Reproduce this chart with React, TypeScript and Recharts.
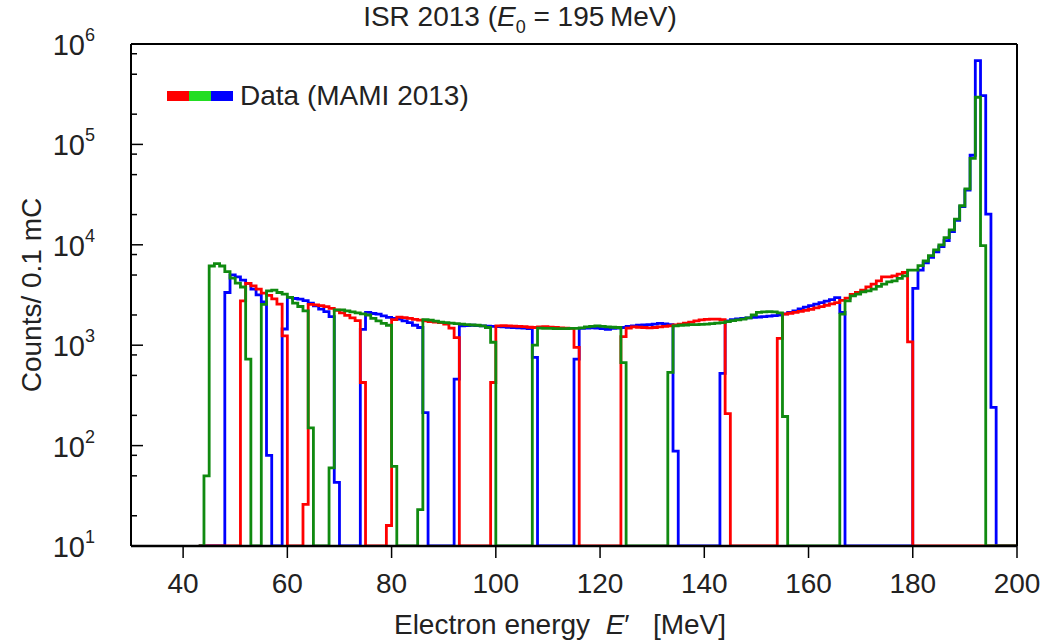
import React from "react";
import { LineChart, Line, XAxis, YAxis, ReferenceLine, Legend } from "recharts";

// 1 MeV bins; each setting = [first bin, counts per bin]
const redStarts = [51, 63, 79, 99, 124, 154];
const redCounts = [
  [2770, 4120, 3900, 3620, 3300, 3140, 2900, 2560, 1240],
  [26, 2550, 2520, 2480, 2420, 2330, 2230, 2100, 1980, 1870, 1760, 425],
  [16, 1800, 1900, 1880, 1850, 1810, 1780, 1750, 1720, 1700, 1680, 1620, 1480, 1190],
  [425, 1560, 1570, 1560, 1550, 1540, 1530, 1510, 1500, 1520, 1530, 1510, 1500, 1490, 1480, 1470, 950],
  [1220, 1480, 1520, 1510, 1500, 1490, 1500, 1520, 1540, 1560, 1590, 1620, 1660, 1700, 1750, 1790, 1810, 1820, 1820, 1800, 208],
  [1170, 2040, 2080, 2120, 2170, 2220, 2280, 2350, 2420, 2500, 2580, 2660, 2800, 2950, 3200, 3350, 3530, 3810, 4060, 4370, 4800, 4800, 4900, 5100, 5300, 1080],
];

const greenStarts = [44, 55, 68, 85, 107, 133, 166];
const greenCounts = [
  [50, 6150, 6500, 6150, 5400, 4650, 4150, 3800, 725],
  [2550, 3470, 3530, 3350, 3230, 2990, 2620, 2430, 2200, 150],
  [60, 2250, 2250, 2200, 2150, 2100, 2050, 2000, 1850, 1750, 1650, 1580, 62],
  [23, 1800, 1780, 1740, 1700, 1680, 1660, 1640, 1620, 1600, 1590, 1580, 1560, 1500, 1070],
  [1000, 1480, 1470, 1470, 1460, 1460, 1460, 1470, 1470, 1490, 1520, 1540, 1560, 1540, 1520, 1510, 1500, 670],
  [535, 1560, 1580, 1590, 1600, 1600, 1610, 1620, 1640, 1660, 1680, 1720, 1760, 1790, 1820, 1870, 2000, 2120, 2150, 2160, 2150, 2100, 195],
  [2040, 2770, 3100, 3230, 3400, 3470, 3620, 3850, 4060, 4280, 4380, 4630, 4900, 5600, 5600, 6200, 6900, 7800, 8900, 10000, 11800, 14100, 18000, 24500, 36000, 72500, 295000, 9800],
];

const blueStarts = [48, 59, 74, 92, 115, 143, 180];
const blueCounts = [
  [3350, 5020, 4800, 4450, 4120, 3620, 3170, 2700, 80],
  [1450, 2990, 2920, 2880, 2780, 2630, 2470, 2290, 2160, 1930, 43],
  [1440, 2120, 2070, 2040, 1960, 1890, 1845, 1815, 1745, 1680, 1580, 1500, 213],
  [460, 1560, 1570, 1580, 1570, 1560, 1550, 1540, 1530, 1520, 1510, 1500, 1490, 1480, 1460, 755],
  [725, 1470, 1480, 1490, 1480, 1460, 1440, 1470, 1480, 1500, 1540, 1560, 1580, 1590, 1600, 1620, 1650, 1630, 1600, 88],
  [525, 1750, 1800, 1830, 1850, 1870, 1890, 1910, 1930, 1950, 1970, 1990, 2050, 2120, 2200, 2300, 2400, 2480, 2560, 2650, 2750, 2850, 2980, 2120],
  [3680, 5600, 6600, 7500, 8500, 9600, 11000, 13500, 17500, 24000, 35000, 78000, 684000, 306000, 20200, 240],
];

const xTicks = [40, 60, 80, 100, 120, 140, 160, 180, 200];
const yTicks = [10, 20, 50, 80, 100, 200, 500, 800, 1000, 2000, 5000, 8000, 10000, 20000, 50000, 80000, 100000, 200000, 500000, 800000, 1000000];

const FLOOR = 10;
const FONT = "'Liberation Sans', Arial, sans-serif";

function pick(starts: number[], counts: number[][], e: number) {
  for (let i = 0; i < starts.length; i++) {
    const k = e - starts[i];
    if (k >= 0 && k < counts[i].length) return counts[i][k];
  }
  return FLOOR;
}

const rows: { e: number; red: number; green: number; blue: number }[] = [];
for (let e = 43; e <= 200; e++) {
  rows.push({
    e,
    red: pick(redStarts, redCounts, e),
    green: pick(greenStarts, greenCounts, e),
    blue: pick(blueStarts, blueCounts, e),
  });
}

function XTick({ x, y, payload }: any) {
  return (
    <g>
      <line x1={x} x2={x} y1={y} y2={y + 12} stroke="#000" strokeWidth={1.5} />
      <text x={x} y={y + 47} textAnchor="middle" fontSize={28} fill="#222" fontFamily={FONT}>
        {payload.value}
      </text>
    </g>
  );
}

function YTick({ x, y, payload }: any) {
  const exp = Math.log10(payload.value);
  const major = Math.abs(exp - Math.round(exp)) < 1e-6;
  return (
    <g>
      <line x1={x} x2={x + (major ? 12 : 6)} y1={y} y2={y} stroke="#000" strokeWidth={1.5} />
      {major && (
        <text x={x - 36} y={y + 11} textAnchor="end" fontSize={29} fill="#222" fontFamily={FONT}>
          10
          <tspan dy={-14} fontSize={18}>
            {Math.round(exp)}
          </tspan>
        </text>
      )}
    </g>
  );
}

function DataLegend() {
  return (
    <div style={{ display: "flex", alignItems: "center", fontFamily: FONT, fontSize: 28, color: "#222" }}>
      <span style={{ width: 22, height: 10, background: "#ff0000", display: "inline-block" }} />
      <span style={{ width: 22, height: 10, background: "#22dd22", display: "inline-block" }} />
      <span style={{ width: 22, height: 10, background: "#0000ff", display: "inline-block" }} />
      <span style={{ marginLeft: 7 }}>Data (MAMI 2013)</span>
    </div>
  );
}

export default function App() {
  return (
    <div style={{ position: "absolute", left: 0, top: 0, width: 1058, height: 644, background: "#fff" }}>
      <div
        style={{
          position: "absolute",
          left: 0,
          width: 1040,
          top: 1,
          textAlign: "center",
          fontFamily: FONT,
          fontSize: 28,
          color: "#222",
        }}
      >
        ISR 2013 (<i>E</i>
        <sub style={{ fontSize: 18 }}>0</sub> = 195&#8201;MeV)
      </div>
      <LineChart width={1058} height={644} data={rows} margin={{ top: 44, right: 41, bottom: 0, left: 0 }}>
        <XAxis
          dataKey="e"
          type="number"
          domain={[30, 200]}
          ticks={xTicks}
          height={98}
          tickSize={0}
          tickMargin={0}
          tick={<XTick />}
          axisLine={{ stroke: "#000", strokeWidth: 2 }}
          tickLine={false}
          allowDataOverflow
          interval={0}
        />
        <YAxis
          type="number"
          scale="log"
          domain={[10, 1000000]}
          ticks={yTicks}
          width={131}
          tickSize={0}
          tickMargin={0}
          tick={<YTick />}
          axisLine={{ stroke: "#000", strokeWidth: 2 }}
          tickLine={false}
          allowDataOverflow
          interval={0}
        />
        <Legend
          layout="vertical"
          align="center"
          verticalAlign="middle"
          content={<DataLegend />}
          wrapperStyle={{ left: 167, top: 80, width: "auto" }}
        />
        <Line type="stepAfter" dataKey="blue" stroke="#0000ff" strokeWidth={2.8} dot={false} isAnimationActive={false} />
        <Line type="stepAfter" dataKey="red" stroke="#ff0000" strokeWidth={2.8} dot={false} isAnimationActive={false} />
        <Line type="stepAfter" dataKey="green" stroke="#108a10" strokeWidth={2.8} dot={false} isAnimationActive={false} />
        <ReferenceLine y={10} stroke="#000" strokeWidth={2.5} />
        <ReferenceLine y={1000000} stroke="#000" strokeWidth={2} />
        <ReferenceLine x={200} stroke="#000" strokeWidth={2} />
      </LineChart>
      <div
        style={{
          position: "absolute",
          left: 0,
          width: 1120,
          top: 609,
          textAlign: "center",
          fontFamily: FONT,
          fontSize: 28,
          color: "#222",
          whiteSpace: "pre",
        }}
      >
        Electron energy  <i>E</i>′   [MeV]
      </div>
      <div
        style={{
          position: "absolute",
          left: 32,
          top: 295,
          transform: "translate(-50%, -50%) rotate(-90deg)",
          fontFamily: FONT,
          fontSize: 28,
          color: "#222",
          whiteSpace: "nowrap",
        }}
      >
        Counts/ 0.1 mC
      </div>
    </div>
  );
}
